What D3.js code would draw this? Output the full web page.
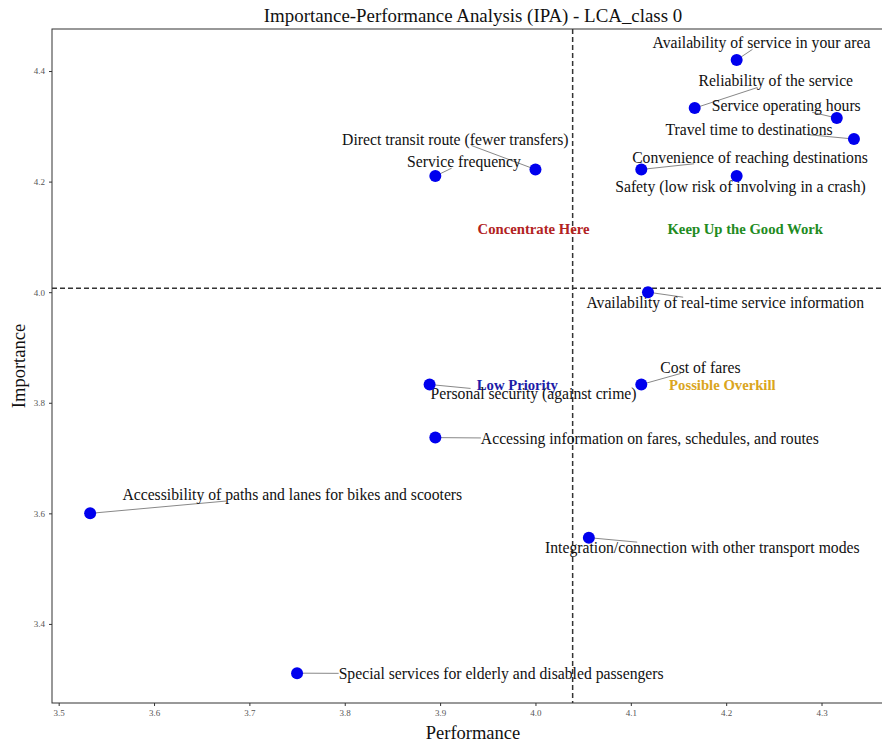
<!DOCTYPE html>
<html>
<head>
<meta charset="utf-8">
<script src="https://cdn.jsdelivr.net/npm/d3@7"></script>
<style>
  body { margin: 0; background: #fff; }
  svg { display: block; font-family: "Liberation Serif", "Times New Roman", serif; }
</style>
</head>
<body>
<div id="chart"></div>
<script>
// attributs evalues (performance, importance)
var attributes = [
  "Availability of service in your area",
  "Reliability of the service",
  "Service operating hours",
  "Travel time to destinations",
  "Convenience of reaching destinations",
  "Safety (low risk of involving in a crash)",
  "Direct transit route (fewer transfers)",
  "Service frequency",
  "Availability of real-time service information",
  "Cost of fares",
  "Personal security (against crime)",
  "Accessing information on fares, schedules, and routes",
  "Accessibility of paths and lanes for bikes and scooters",
  "Integration/connection with other transport modes",
  "Special services for elderly and disabled passengers"
];
var performance = [4.211, 4.167, 4.316, 4.334, 4.111, 4.211, 4.000, 3.895, 4.118, 4.111, 3.889, 3.895, 3.533, 4.056, 3.750];
var importance  = [4.420, 4.333, 4.315, 4.277, 4.222, 4.210, 4.222, 4.210, 4.000, 3.833, 3.833, 3.737, 3.600, 3.556, 3.311];

// position des etiquettes (unites des donnees, centre du texte)
var labelX = [4.237, 4.252, 4.263, 4.224, 4.225, 4.215, 3.916, 3.925, 4.199, 4.173, 3.998, 4.120, 3.745, 4.175, 3.964];
var labelY = [4.451, 4.382, 4.337, 4.295, 4.244, 4.192, 4.277, 4.236, 3.981, 3.863, 3.816, 3.735, 3.634, 3.538, 3.310];

var meanPerformance = 4.039;
var meanImportance = 4.007;

var quadrantNames = ["Concentrate Here", "Keep Up the Good Work", "Low Priority", "Possible Overkill"];
var quadrantColors = ["#b22222", "#228b22", "#1c1ca8", "#daa520"];
var quadrantX = [3.998, 4.220, 3.981, 4.196];
var quadrantY = [4.114, 4.114, 3.832, 3.832];

var xTicks = [3.5, 3.6, 3.7, 3.8, 3.9, 4.0, 4.1, 4.2, 4.3];
var yTicks = [3.4, 3.6, 3.8, 4.0, 4.2, 4.4];

var W = 882, H = 744;
var mLeft = 52, mRight = 894, mTop = 29, mBottom = 703;

var svg = d3.select('#chart').append('svg').attr('width', W).attr('height', H);

var x = d3.scaleLinear().domain([3.493, 4.376]).range([mLeft, mRight]);
var y = d3.scaleLinear().domain([3.257, 4.476]).range([mBottom, mTop]);

// cadre
svg.append('rect')
  .attr('x', mLeft).attr('y', mTop)
  .attr('width', mRight - mLeft).attr('height', mBottom - mTop)
  .attr('fill', 'none').attr('stroke', '#333').attr('stroke-width', 1);

// axes
var xAxis = svg.append('g').attr('transform', 'translate(0,' + mBottom + ')')
  .call(d3.axisBottom(x).tickValues(xTicks).tickFormat(d3.format('.1f')).tickSize(3).tickPadding(4));
var yAxis = svg.append('g').attr('transform', 'translate(' + mLeft + ',0)')
  .call(d3.axisLeft(y).tickValues(yTicks).tickFormat(d3.format('.1f')).tickSize(3).tickPadding(4));
[xAxis, yAxis].forEach(function(a){
  a.select('.domain').remove();
  a.selectAll('line').attr('stroke', '#333');
  a.selectAll('text').attr('fill', '#555').style('font-size', '9px').style('font-family', '"Liberation Serif", serif');
});

// lignes moyennes
svg.append('line')
  .attr('x1', x(meanPerformance)).attr('x2', x(meanPerformance))
  .attr('y1', mTop).attr('y2', mBottom)
  .attr('stroke', '#333').attr('stroke-width', 1.5).attr('stroke-dasharray', '5,3');
svg.append('line')
  .attr('x1', mLeft).attr('x2', mRight)
  .attr('y1', y(meanImportance)).attr('y2', y(meanImportance))
  .attr('stroke', '#333').attr('stroke-width', 1.5).attr('stroke-dasharray', '5,3');

// quadrants
quadrantNames.forEach(function(q, i){
  svg.append('text')
    .attr('x', x(quadrantX[i])).attr('y', y(quadrantY[i]))
    .attr('text-anchor', 'middle').attr('dominant-baseline', 'central')
    .style('font-size', '14.7px').style('font-weight', 'bold')
    .attr('fill', quadrantColors[i])
    .text(q);
});

// etiquettes et connecteurs
var labels = svg.append('g');
attributes.forEach(function(name, i){
  var t = labels.append('text')
    .attr('x', x(labelX[i])).attr('y', y(labelY[i]))
    .attr('text-anchor', 'middle').attr('dominant-baseline', 'central')
    .style('font-size', '15.7px').attr('fill', '#111')
    .text(name);
  var b = t.node().getBBox();
  var px = x(performance[i]), py = y(importance[i]);
  var cx = b.x + b.width / 2, cy = b.y + b.height / 2;
  // on coupe le segment centre -> point au bord de la boite du texte
  var dx = px - cx, dy = py - cy;
  var tx = dx !== 0 ? (b.width / 2) / Math.abs(dx) : Infinity;
  var ty = dy !== 0 ? (b.height / 2 - 3) / Math.abs(dy) : Infinity;
  var s = Math.min(tx, ty, 1);
  if (s < 1) {
    labels.insert('line', 'text')
      .attr('x1', px).attr('y1', py)
      .attr('x2', cx + dx * s).attr('y2', cy + dy * s)
      .attr('stroke', '#888').attr('stroke-width', 1);
  }
});

// points
svg.append('g').selectAll('circle')
  .data(attributes)
  .enter().append('circle')
  .attr('cx', function(d, i){ return x(performance[i]); })
  .attr('cy', function(d, i){ return y(importance[i]); })
  .attr('r', 6)
  .attr('fill', '#0000ee');

// titres
svg.append('text')
  .attr('x', (mLeft + mRight) / 2).attr('y', 22)
  .attr('text-anchor', 'middle')
  .style('font-size', '18.9px').attr('fill', '#111')
  .text('Importance-Performance Analysis (IPA) - LCA_class 0');
svg.append('text')
  .attr('x', (mLeft + mRight) / 2).attr('y', 739)
  .attr('text-anchor', 'middle')
  .style('font-size', '18.5px').attr('fill', '#111')
  .text('Performance');
svg.append('text')
  .attr('transform', 'translate(25,' + (mTop + mBottom) / 2 + ') rotate(-90)')
  .attr('text-anchor', 'middle')
  .style('font-size', '18.5px').attr('fill', '#111')
  .text('Importance');
</script>
</body>
</html>
